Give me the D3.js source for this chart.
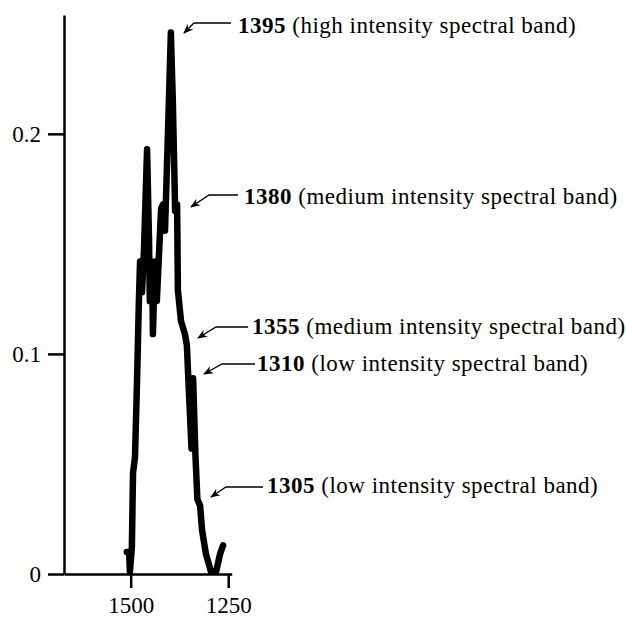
<!DOCTYPE html>
<html>
<head>
<meta charset="utf-8">
<script src="https://cdn.jsdelivr.net/npm/d3@7"></script>
<style>
  html, body { margin: 0; padding: 0; background: #fff; }
  svg { display: block; }
  text { font-family: "Liberation Serif", "Times New Roman", serif; fill: #000; }
</style>
</head>
<body>
<div id="chart"></div>
<script>
// ---- data ----
const wavenumbers = [1510, 1504, 1502, 1497, 1494, 1489, 1484, 1479, 1476, 1471, 1466, 1458, 1453, 1451, 1445, 1443, 1438, 1433, 1427, 1422, 1417, 1412, 1402, 1397, 1392, 1386, 1381, 1379, 1371, 1361, 1356, 1351, 1344, 1340, 1334, 1329, 1322, 1317, 1307, 1294, 1281, 1271, 1263];
const absorbance  = [0.010, 0.010, 0.001, 0.012, 0.046, 0.053, 0.086, 0.124, 0.142, 0.128, 0.147, 0.193, 0.152, 0.124, 0.142, 0.109, 0.142, 0.124, 0.147, 0.166, 0.168, 0.156, 0.215, 0.246, 0.215, 0.165, 0.168, 0.129, 0.115, 0.109, 0.104, 0.084, 0.057, 0.089, 0.054, 0.034, 0.031, 0.020, 0.009, 0.001, 0.001, 0.009, 0.013];
const xTicks = [1500, 1250];
const yTicks = [0, 0.1, 0.2];
const yTickLabels = ["0", "0.1", "0.2"];
const bandNumbers = ["1395", "1380", "1355", "1310", "1305"];
const bandTexts = ["(high intensity spectral band)", "(medium intensity spectral band)", "(medium intensity spectral band)", "(low intensity spectral band)", "(low intensity spectral band)"];

// ---- layout (pixels) ----
const W = 626, H = 618;
const xRange = [64, 231.7], yRange = [574, 15];
// annotation layout: text start x, baseline y, arrow line start (right end), knee, tip
const annLayout = [
  { tx: 238, ty: 33,  ax: 231, ay: 23,  kx: 194, tipx: 184, tipy: 33 },
  { tx: 244, ty: 204, ax: 238, ay: 195, kx: 209, tipx: 191, tipy: 207 },
  { tx: 252, ty: 334, ax: 248, ay: 327, kx: 216, tipx: 198, tipy: 338 },
  { tx: 257, ty: 371, ax: 255, ay: 364, kx: 222, tipx: 204, tipy: 374 },
  { tx: 267, ty: 493, ax: 263, ay: 487, kx: 226, tipx: 211, tipy: 497 }
];

const svg = d3.select("#chart").append("svg").attr("width", W).attr("height", H);

const x = d3.scaleLinear().domain([1671, 1241]).range(xRange);
const y = d3.scaleLinear().domain([0, 0.254]).range(yRange);

// axes
const yAxis = d3.axisLeft(y).tickValues(yTicks).tickSizeInner(16).tickSizeOuter(0).tickPadding(7)
  .tickFormat((d, i) => yTickLabels[i]);
const gy = svg.append("g").attr("transform", `translate(${xRange[0]},0)`).call(yAxis);
gy.select(".domain").attr("stroke", "#000").attr("stroke-width", 2.5);
gy.selectAll(".tick line").attr("stroke", "#000").attr("stroke-width", 2.5);
gy.selectAll(".tick text").attr("font-size", 23).attr("font-family", "Liberation Serif, serif").attr("dy", "0.34em");

const xAxis = d3.axisBottom(x).tickValues(xTicks).tickSizeInner(14).tickSizeOuter(0)
  .tickFormat(d3.format("d"));
const gx = svg.append("g").attr("transform", `translate(0,${yRange[0]})`).call(xAxis);
gx.select(".domain").attr("stroke", "#000").attr("stroke-width", 2.5);
gx.selectAll(".tick line").attr("stroke", "#000").attr("stroke-width", 2.5);
gx.selectAll(".tick text").attr("font-size", 23).attr("font-family", "Liberation Serif, serif").attr("y", 39).attr("dy", 0);

// spectrum line
const pts = wavenumbers.map((w, i) => [w, absorbance[i]]);
const line = d3.line().x(d => x(d[0])).y(d => y(d[1]));
svg.append("path").datum(pts)
  .attr("d", line)
  .attr("fill", "none")
  .attr("stroke", "#000")
  .attr("stroke-width", 6.5)
  .attr("stroke-linejoin", "round")
  .attr("stroke-linecap", "round");

// arrow marker
svg.append("defs").append("marker")
  .attr("id", "ah").attr("viewBox", "0 0 10 10").attr("refX", 9).attr("refY", 5)
  .attr("markerWidth", 10).attr("markerHeight", 10).attr("markerUnits", "userSpaceOnUse")
  .attr("orient", "auto")
  .append("path").attr("d", "M0,1 L10,5 L0,9 L3,5 Z").attr("fill", "#000");

annLayout.forEach((a, i) => {
  svg.append("path")
    .attr("d", `M${a.ax},${a.ay} L${a.kx},${a.ay} L${a.tipx},${a.tipy}`)
    .attr("fill", "none").attr("stroke", "#000").attr("stroke-width", 1.3)
    .attr("marker-end", "url(#ah)");
  const t = svg.append("text").attr("x", a.tx).attr("y", a.ty).attr("font-size", 23).attr("letter-spacing", 0.5);
  t.append("tspan").attr("font-weight", "bold").text(bandNumbers[i]);
  t.append("tspan").text(" " + bandTexts[i]);
});
</script>
</body>
</html>
